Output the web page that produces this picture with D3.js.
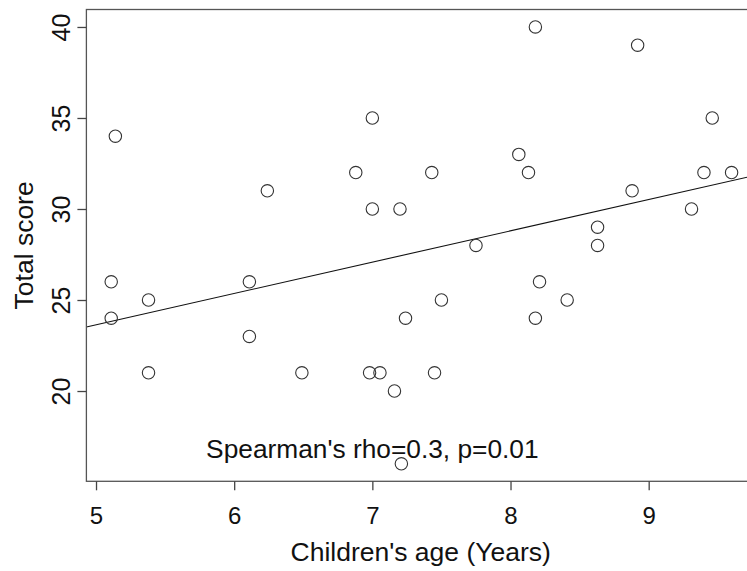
<!DOCTYPE html>
<html>
<head>
<meta charset="utf-8">
<script src="https://cdn.jsdelivr.net/npm/d3@7"></script>
<style>
  body { margin: 0; background: #fff; }
  svg { display: block; font-family: "Liberation Sans", Arial, sans-serif; }
</style>
</head>
<body>
<div id="chart"></div>
<script>
// children's age (years) and total score
var ages = [5.14, 5.11, 5.11, 5.38, 5.38, 6.11, 6.11, 6.24, 6.49, 6.88, 7.00, 7.00,
  6.98, 7.055, 7.16, 7.21, 7.20, 7.24, 7.43, 7.45, 7.50, 7.75, 8.06, 8.13,
  8.18, 8.18, 8.21, 8.41, 8.63, 8.63, 8.88, 8.92, 9.31, 9.40, 9.46, 9.60];
var scores = [34, 26, 24, 25, 21, 26, 23, 31, 21, 32, 35, 30,
  21, 21, 20, 16, 30, 24, 32, 21, 25, 28, 33, 32,
  40, 24, 26, 25, 29, 28, 31, 39, 30, 32, 35, 32];
var xTicks = [5, 6, 7, 8, 9];
var yTicks = [20, 25, 30, 35, 40];
var fitLine = [15.04, 1.72]; // intercept, slope
var note = "Spearman's rho=0.3, p=0.01";

var W = 747, H = 571;
var mLeft = 86.4, mRight = 756.4, mTop = 9.5, mBottom = 481.3;

var svg = d3.select('#chart').append('svg')
  .attr('width', W)
  .attr('height', H);

// R style 4% padding on the data range
function padded(v) {
  var ext = d3.extent(v), pad = (ext[1] - ext[0]) * 0.04;
  return [ext[0] - pad, ext[1] + pad];
}

var x = d3.scaleLinear().domain(padded(ages)).range([mLeft, mRight]);
var y = d3.scaleLinear().domain(padded(scores)).range([mBottom, mTop]);

svg.append('clipPath').attr('id', 'clip')
  .append('rect')
  .attr('x', mLeft).attr('y', mTop)
  .attr('width', mRight - mLeft).attr('height', mBottom - mTop);

var plot = svg.append('g');

// fitted line
var xd = x.domain();
plot.append('line')
  .attr('clip-path', 'url(#clip)')
  .attr('x1', x(xd[0])).attr('y1', y(fitLine[0] + fitLine[1] * xd[0]))
  .attr('x2', x(xd[1])).attr('y2', y(fitLine[0] + fitLine[1] * xd[1]))
  .attr('stroke', '#111')
  .attr('stroke-width', 1.1);

// points
plot.selectAll('circle')
  .data(ages)
  .enter().append('circle')
  .attr('cx', function(d) { return x(d); })
  .attr('cy', function(d, i) { return y(scores[i]); })
  .attr('r', 6.2)
  .attr('fill', 'none')
  .attr('stroke', '#333')
  .attr('stroke-width', 1.1);

// box
svg.append('rect')
  .attr('x', mLeft).attr('y', mTop)
  .attr('width', mRight - mLeft).attr('height', mBottom - mTop)
  .attr('fill', 'none')
  .attr('stroke', '#555')
  .attr('stroke-width', 1.3);

// x axis
var xAxis = svg.append('g')
  .attr('transform', 'translate(0,' + mBottom + ')')
  .call(d3.axisBottom(x).tickValues(xTicks).tickFormat(d3.format('d'))
    .tickSize(9).tickPadding(17).tickSizeOuter(0));
xAxis.select('.domain').remove();
xAxis.selectAll('line').attr('stroke', '#444').attr('stroke-width', 1.3);
xAxis.selectAll('text')
  .attr('fill', '#111')
  .style('font-size', '24px')
  .style('font-family', '"Liberation Sans", Arial, sans-serif');

// y axis (labels parallel to the axis)
var yAxis = svg.append('g')
  .attr('transform', 'translate(' + mLeft + ',0)')
  .call(d3.axisLeft(y).tickValues(yTicks).tickFormat(d3.format('d'))
    .tickSize(9).tickSizeOuter(0));
yAxis.select('.domain').remove();
yAxis.selectAll('line').attr('stroke', '#444').attr('stroke-width', 1.3);
yAxis.selectAll('text')
  .attr('x', null).attr('dy', null)
  .attr('text-anchor', 'middle')
  .attr('transform', 'translate(-16,0) rotate(-90)')
  .attr('fill', '#111')
  .style('font-size', '25px')
  .style('font-family', '"Liberation Sans", Arial, sans-serif');

// axis titles
svg.append('text')
  .attr('x', x(7.35)).attr('y', 561)
  .attr('text-anchor', 'middle')
  .attr('fill', '#111')
  .style('font-size', '26.5px')
  .text("Children's age (Years)");

svg.append('text')
  .attr('transform', 'translate(33,' + y(28) + ') rotate(-90)')
  .attr('text-anchor', 'middle')
  .attr('fill', '#111')
  .style('font-size', '26.5px')
  .text('Total score');

// annotation
svg.append('text')
  .attr('x', x(7)).attr('y', 458)
  .attr('text-anchor', 'middle')
  .attr('fill', '#111')
  .style('font-size', '26.3px')
  .text(note);
</script>
</body>
</html>
